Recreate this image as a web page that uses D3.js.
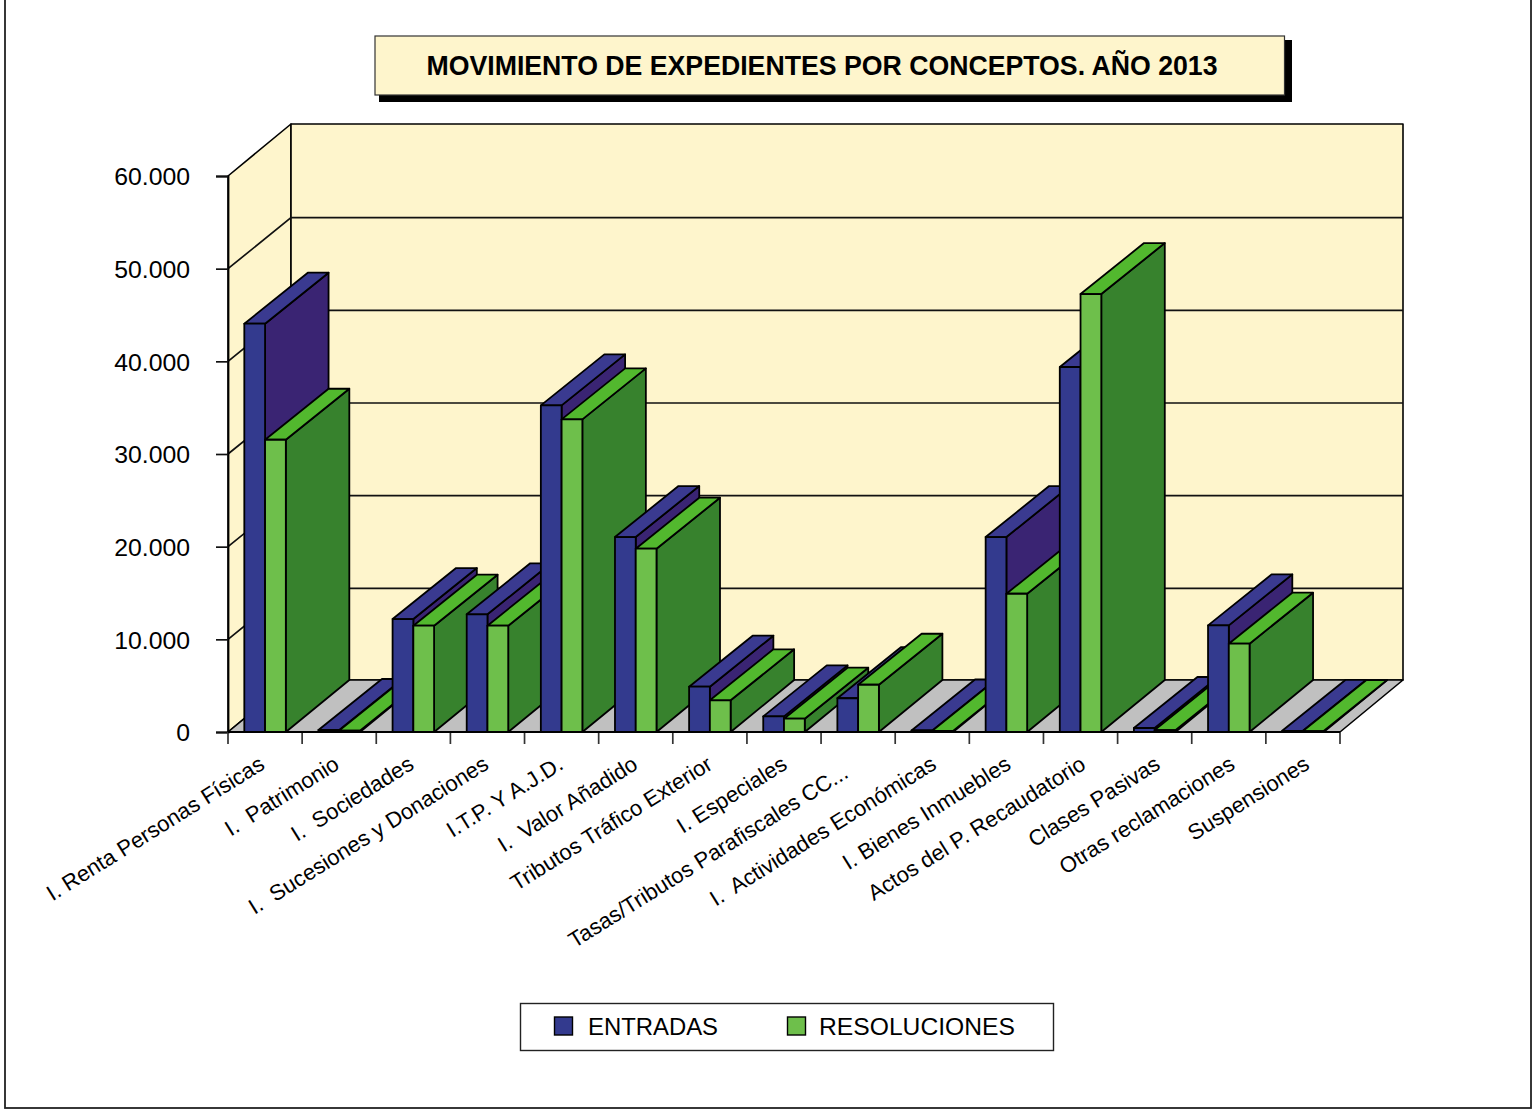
<!DOCTYPE html>
<html><head><meta charset="utf-8">
<script src="https://cdn.jsdelivr.net/npm/d3@7"></script>
<style>html,body{margin:0;padding:0;background:#fff}svg{display:block}text{font-family:"Liberation Sans",Arial,sans-serif;fill:#000;white-space:pre}</style>
</head><body><div id="chart"></div>
<script>
const categories=["I. Renta Personas Físicas","I.  Patrimonio","I.  Sociedades","I.  Sucesiones y Donaciones","I.T.P. Y A.J.D.","I.  Valor Añadido","Tributos Tráfico Exterior","I. Especiales","Tasas/Tributos Parafiscales CC...","I.  Actividades Económicas","I. Bienes Inmuebles","Actos del P. Recaudatorio","Clases Pasivas","Otras reclamaciones","Suspensiones"];
const seriesNames=["ENTRADAS","RESOLUCIONES"];
const entradas=[44060,215,12190,12700,35250,21040,4890,1690,3640,160,21040,39390,430,11510,130];
const resoluciones=[31540,150,11470,11470,33740,19780,3420,1435,5100,120,14920,47260,200,9530,100];
const yTicks=[0,10000,20000,30000,40000,50000,60000];
const title="MOVIMIENTO DE EXPEDIENTES POR CONCEPTOS. AÑO 2013";

const W=1532,H=1112;
const plotLeft=228,plotRight=1340,plotBottom=732,plotTop=176,dx=63,dy=52,barDx=63.5,barDy=51;
const palette={
  ENTRADAS:{front:"#333A8E",top:"#3A3A90",side:"#3A2473"},
  RESOLUCIONES:{front:"#6EBF4B",top:"#52B82E",side:"#37822D"}
};
const svg=d3.select("#chart").append("svg").attr("width",W).attr("height",H);
const x=d3.scaleBand().domain(categories).range([plotLeft,plotRight]).paddingInner(0.44).paddingOuter(0.22);
const xs=d3.scaleBand().domain(seriesNames).range([0,x.bandwidth()]);
const y=d3.scaleLinear().domain([0,60000]).range([plotBottom,plotTop]);
const fmt=v=>d3.format(",")(v).replace(/,/g,".");
const poly=(g,pts,fill,sw=1.8)=>g.append("polygon").attr("points",pts.map(p=>p.join(",")).join(" ")).attr("fill",fill).attr("stroke","#000").attr("stroke-width",sw).attr("stroke-linejoin","round");

// frame
svg.append("rect").attr("x",5).attr("y",-5).attr("width",1526).attr("height",1113).attr("fill","#fff").attr("stroke","#222").attr("stroke-width",1.8);

// title
svg.append("rect").attr("x",379).attr("y",40).attr("width",913).attr("height",62).attr("fill","#000");
svg.append("rect").attr("x",375).attr("y",36).attr("width",909.5).attr("height",59).attr("fill","#FEF5CC").attr("stroke","#333").attr("stroke-width",1.2);
svg.append("text").attr("x",822).attr("y",75).attr("text-anchor","middle").attr("font-weight","bold").attr("font-size",27).attr("textLength",791).attr("lengthAdjust","spacingAndGlyphs").text(title);

// walls
const walls=svg.append("g");
poly(walls,[[plotLeft,plotBottom],[plotLeft+dx,plotBottom-dy],[plotLeft+dx,plotTop-dy],[plotLeft,plotTop]],"#FEF5CC",1.6);
poly(walls,[[plotLeft+dx,plotBottom-dy],[plotRight+dx,plotBottom-dy],[plotRight+dx,plotTop-dy],[plotLeft+dx,plotTop-dy]],"#FEF5CC",1.6);
poly(walls,[[plotLeft,plotBottom],[plotLeft+dx,plotBottom-dy],[plotRight+dx,plotBottom-dy],[plotRight,plotBottom]],"#C0C0C0",1.6);
yTicks.slice(1,-1).forEach(t=>{
  walls.append("path").attr("d",`M${plotLeft},${y(t)}L${plotLeft+dx},${y(t)-barDy}H${plotRight+dx}`).attr("fill","none").attr("stroke","#111").attr("stroke-width",1.7);
});

// axes
const yAxis=d3.axisLeft(y).tickValues(yTicks).tickFormat(fmt).tickSize(12).tickPadding(26);
const gy=svg.append("g").attr("transform",`translate(${plotLeft},0)`).call(yAxis);
gy.select(".domain").attr("stroke","#000").attr("stroke-width",1.8);
gy.selectAll(".tick line").attr("stroke","#111").attr("stroke-width",1.7);
gy.selectAll("text").attr("font-size",24.8).attr("font-family",'"Liberation Sans",Arial,sans-serif').attr("dy","0.36em");

const xAxis=d3.axisBottom(x).tickSize(0).tickPadding(0);
const gx=svg.append("g").attr("transform",`translate(0,${plotBottom})`).call(xAxis);
gx.select(".domain").remove();
gx.selectAll("text").attr("font-size",22).attr("font-family",'"Liberation Sans",Arial,sans-serif')
  .attr("text-anchor","end").attr("dy",0).attr("y",0).attr("dx",d=>d.endsWith("...")?-16:0)
  .attr("transform",(d,i)=>`translate(${1+i*0.5},36) rotate(-32)`);
const tickEdges=d3.range(categories.length+1).map(i=>plotLeft+i*x.step());
svg.append("g").selectAll("line").data(tickEdges).join("line")
  .attr("x1",d=>d).attr("x2",d=>d).attr("y1",plotBottom).attr("y2",plotBottom+12).attr("stroke","#333").attr("stroke-width",1.7);
svg.append("line").attr("x1",plotLeft).attr("x2",plotRight).attr("y1",plotBottom).attr("y2",plotBottom).attr("stroke","#000").attr("stroke-width",2);

// bars
const bars=svg.append("g");
categories.forEach((c,i)=>{
  [entradas,resoluciones].forEach((vals,k)=>{
    const name=seriesNames[k],col=palette[name];
    const x0=x(c)+xs(name),x1=x0+xs.bandwidth(),yt=y(vals[i]),yb=y(0);
    const g=bars.append("g");
    poly(g,[[x1,yb],[x1+barDx,yb-dy],[x1+barDx,yt-barDy],[x1,yt]],col.side);
    poly(g,[[x0,yt],[x1,yt],[x1+barDx,yt-barDy],[x0+barDx,yt-barDy]],col.top);
    poly(g,[[x0,yb],[x1,yb],[x1,yt],[x0,yt]],col.front);
  });
});

// legend
const lg=svg.append("g");
lg.append("rect").attr("x",520.5).attr("y",1003.5).attr("width",533).attr("height",47).attr("fill","#fff").attr("stroke","#222").attr("stroke-width",1.4);
const legendX={ENTRADAS:554,RESOLUCIONES:787};
const legendW={ENTRADAS:130,RESOLUCIONES:196};
seriesNames.forEach(n=>{
  lg.append("rect").attr("x",legendX[n]+.5).attr("y",1017).attr("width",18).attr("height",18).attr("fill",palette[n].front).attr("stroke","#000").attr("stroke-width",1.4);
  lg.append("text").attr("x",legendX[n]+(n==="ENTRADAS"?34:32)).attr("y",1035).attr("font-size",24).attr("textLength",legendW[n]).attr("lengthAdjust","spacingAndGlyphs").text(n);
});
</script></body></html>
